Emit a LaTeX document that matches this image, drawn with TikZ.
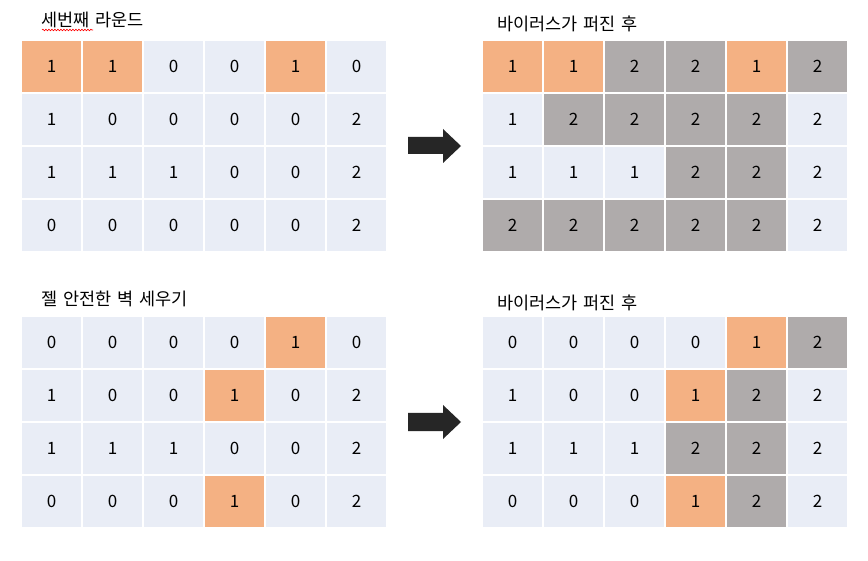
\documentclass[tikz,border=0pt]{standalone}
\usepackage{fontspec}
\newfontfamily\kr{Noto Sans CJK KR}
\newfontfamily\krtitle[WordSpace=1.5]{Noto Sans CJK KR}
\usetikzlibrary{decorations.pathmorphing}

\definecolor{cellblue}{HTML}{E9EDF6}
\definecolor{cellorange}{HTML}{F4B183}
\definecolor{cellgray}{HTML}{AFABAB}
\definecolor{arrowdark}{HTML}{262626}

\tikzset{
  cell/.style={draw=white, line width=1.6pt, minimum width=61pt, minimum height=53pt,
    inner sep=0pt, font=\kr\fontsize{17}{17}\selectfont},
  bcell/.style={cell, fill=cellblue},
  ocell/.style={cell, fill=cellorange},
  gcell/.style={cell, fill=cellgray},
  title/.style={anchor=base west, inner sep=0pt, font=\krtitle\fontsize{17.5}{17.5}\selectfont},
}

% one 6x4 board: name, left, top, rows of value/style
\newcommand{\board}[4]{%
  \foreach \rowlist [count=\r] in {#4}{
    \foreach \v/\s [count=\c] in \rowlist{
      \node[\s] (#1-\r-\c) at ({#2+(\c-0.5)*61}, {#3+(\r-0.5)*53}) {\v};
    }
  }
}

\begin{document}
\begin{tikzpicture}[x=1pt, y=-1pt]
    \useasboundingbox[fill=white] (0,0) rectangle (868,561);

    % Titles
    \node[title] (t1) at (41,27) {세번째 라운드};
    \node[title] (t2) at (497,31) {바이러스가 퍼진 후};
    \node[title] (t3) at (41,306) {젤 안전한 벽 세우기};
    \node[title] (t4) at (497,310) {바이러스가 퍼진 후};
    \draw[red, line width=0.6pt, decorate, decoration={snake, segment length=3pt, amplitude=0.8pt}]
      (42,30) -- (93,30);

    % Third round
    \board{a}{21}{40}{
      {1/ocell,1/ocell,0/bcell,0/bcell,1/ocell,0/bcell},
      {1/bcell,0/bcell,0/bcell,0/bcell,0/bcell,2/bcell},
      {1/bcell,1/bcell,1/bcell,0/bcell,0/bcell,2/bcell},
      {0/bcell,0/bcell,0/bcell,0/bcell,0/bcell,2/bcell}}

    % After spreading
    \board{b}{482}{40}{
      {1/ocell,1/ocell,2/gcell,2/gcell,1/ocell,2/gcell},
      {1/bcell,2/gcell,2/gcell,2/gcell,2/gcell,2/bcell},
      {1/bcell,1/bcell,1/bcell,2/gcell,2/gcell,2/bcell},
      {2/gcell,2/gcell,2/gcell,2/gcell,2/gcell,2/bcell}}

    % Safest walls
    \board{c}{21}{316}{
      {0/bcell,0/bcell,0/bcell,0/bcell,1/ocell,0/bcell},
      {1/bcell,0/bcell,0/bcell,1/ocell,0/bcell,2/bcell},
      {1/bcell,1/bcell,1/bcell,0/bcell,0/bcell,2/bcell},
      {0/bcell,0/bcell,0/bcell,1/ocell,0/bcell,2/bcell}}

    % After spreading
    \board{d}{482}{316}{
      {0/bcell,0/bcell,0/bcell,0/bcell,1/ocell,2/gcell},
      {1/bcell,0/bcell,0/bcell,1/ocell,2/gcell,2/bcell},
      {1/bcell,1/bcell,1/bcell,2/gcell,2/gcell,2/bcell},
      {0/bcell,0/bcell,0/bcell,1/ocell,2/gcell,2/bcell}}

    % Block arrows
    \fill[arrowdark] (408,137) -- (443,137) -- (443,129) -- (461,146) -- (443,163) -- (443,154) -- (408,154) -- cycle;
    \fill[arrowdark] (408,413) -- (443,413) -- (443,405) -- (461,422) -- (443,439) -- (443,431) -- (408,431) -- cycle;
\end{tikzpicture}
\end{document}
